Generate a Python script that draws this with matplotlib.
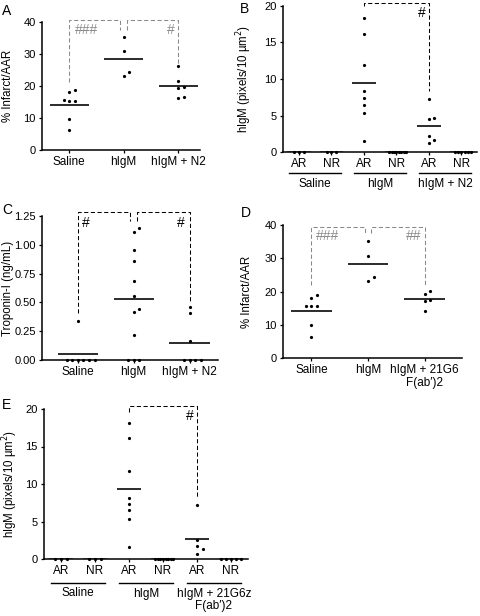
import numpy as np
import matplotlib
matplotlib.use("Agg")
import matplotlib.pyplot as plt

plt.rcParams["font.family"] = ["Liberation Sans", "DejaVu Sans"]
plt.rcParams["font.size"] = 8

# ---- data ----
A_groups = ["Saline", "hIgM", "hIgM + N2"]
A_saline = [18.9, 18.0, 15.5, 15.4, 15.4, 9.7, 6.3]
A_higm = [35.2, 30.8, 24.5, 23.2]
A_n2 = [26.2, 21.5, 19.6, 19.3, 16.7, 16.2]

B_ticks = ["AR", "NR", "AR", "NR", "AR", "NR"]
B_groups = ["Saline", "hIgM", "hIgM + N2"]
B_saline_ar = [0, 0, 0]
B_saline_nr = [0, 0, 0]
B_higm_ar = [18.36, 16.2, 11.96, 8.35, 7.44, 6.48, 5.39, 1.55]
B_higm_nr = [0, 0, 0, 0, 0, 0, 0, 0]
B_n2_ar = [7.2, 4.7, 4.57, 2.15, 1.64, 1.19]
B_n2_nr = [0, 0, 0, 0, 0, 0]

C_groups = ["Saline", "hIgM", "hIgM + N2"]
C_saline = [0.34, 0, 0, 0, 0, 0, 0]
C_higm = [1.148, 1.113, 0.952, 0.862, 0.683, 0.558, 0.441, 0.42, 0.216, 0, 0, 0]
C_n2 = [0.464, 0.412, 0.161, 0, 0, 0, 0]

D_groups = ["Saline", "hIgM", "hIgM + 21G6\nF(ab\u2032)2"]
D_saline = [19.0, 18.1, 15.7, 15.5, 15.5, 9.8, 6.3]
D_higm = [35.2, 30.8, 24.4, 23.2]
D_21g6 = [20.3, 19.2, 17.4, 17.0, 14.2]

E_ticks = ["AR", "NR", "AR", "NR", "AR", "NR"]
E_groups = ["Saline", "hIgM", "hIgM + 21G6z\nF(ab\u2032)2"]
E_saline_ar = [0, 0, 0]
E_saline_nr = [0, 0, 0]
E_higm_ar = [18.2, 16.1, 11.8, 8.2, 7.36, 6.48, 5.37, 1.59]
E_higm_nr = [0, 0, 0, 0, 0, 0, 0, 0]
E_21g6z_ar = [7.2, 2.6, 1.8, 1.3, 0.7]
E_21g6z_nr = [0, 0, 0, 0, 0]

W, H = 480, 616
GRAY = "#8a8a8a"
CAT_FS = 8.5
HASH_FS = 10


def addAxes(fig, left, top, right, bottom):
    return fig.add_axes([left / W, 1 - bottom / H, (right - left) / W, (bottom - top) / H])


def swarmOffsets(values, thresh, dx, maxw=0.3):
    # simple column-scatter: push overlapping points sideways 0, +1, -1, +2 ...
    order = np.argsort(values, kind="stable")
    ks = np.zeros(len(values), dtype=int)
    placed = []
    for i in order:
        v = values[i]
        for n in range(2 * len(values) + 1):
            k = (n + 1) // 2 * (1 if n % 2 else -1)
            if all(not (pk == k and abs(pv - v) < thresh) for pk, pv in placed):
                break
        ks[i] = k
        placed.append((k, v))
    m = np.abs(ks).max()
    step = dx if m == 0 else min(dx, maxw / m)
    return ks * step


def drawGroup(ax, x, values, thresh, dx):
    values = np.asarray(values, dtype=float)
    offs = swarmOffsets(values, thresh, dx)
    ax.plot(x + offs, values, "o", color="black", markersize=2.3,
            markeredgewidth=0, clip_on=False, zorder=5)
    m = values.mean()
    ax.plot([x - 0.36, x + 0.36], [m, m], color="#1a1a1a", lw=1.3,
            solid_capstyle="butt", zorder=4)


def bracket(ax, x1, y1, x2, y2, top, color):
    ax.plot([x1, x1, x2, x2], [y1, top, top, y2], linestyle=(0, (4, 2.4)),
            color=color, lw=0.75, clip_on=False)


def styleAxes(ax, xlim, ylim, yticks, ylabels, ylabel, labelx, labelfs=8.3):
    for s in ["top", "right"]:
        ax.spines[s].set_visible(False)
    for s in ["left", "bottom"]:
        ax.spines[s].set_linewidth(1.1)
    ax.set_xlim(*xlim)
    ax.set_ylim(*ylim)
    ax.set_yticks(yticks)
    ax.set_yticklabels(ylabels)
    ax.tick_params(direction="out", length=2.5, width=0.9, labelsize=8, pad=2)
    ax.set_ylabel(ylabel, fontsize=labelfs)
    ax.yaxis.set_label_coords(labelx, 0.5)


def panelLetter(fig, x, y, s):
    fig.text(x / W, 1 - y / H, s, fontsize=10, ha="left", va="center")


def groupLines(ax, groups, yline, ytext):
    tr = ax.get_xaxis_transform()
    for i, g in enumerate(groups):
        c = 2 * i + 0.5
        ax.plot([c - 0.8, c + 0.8], [yline, yline], color="black", lw=1.0,
                transform=tr, clip_on=False)
        ax.text(c, ytext, g, ha="center", va="top", fontsize=CAT_FS,
                transform=tr, linespacing=1.1)


fig = plt.figure(figsize=(W / 100, H / 100), dpi=100)

# ---- A ----
ax = addAxes(fig, 42, 22, 200, 150)
styleAxes(ax, (-0.5, 2.4), (0, 40), [0, 10, 20, 30, 40],
          ["0", "10", "20", "30", "40"], "% Infarct/AAR", -0.18)
for i, vals in enumerate([A_saline, A_higm, A_n2]):
    drawGroup(ax, i, vals, 1.4, 0.105)
ax.set_xticks(range(3))
ax.set_xticklabels(A_groups, fontsize=CAT_FS)
bracket(ax, 0, 21.3, 0.94, 37.6, 40.7, GRAY)
bracket(ax, 1.06, 37.6, 2, 27.0, 40.7, GRAY)
ax.text(0.1, 37.4, "###", color=GRAY, fontsize=HASH_FS, ha="left", va="center")
ax.text(1.94, 37.4, "#", color=GRAY, fontsize=HASH_FS, ha="right", va="center")
panelLetter(fig, 2, 11, "A")

# ---- B ----
ax = addAxes(fig, 283, 6, 477, 152)
styleAxes(ax, (-0.49, 5.48), (0, 20), [0, 5, 10, 15, 20],
          ["0", "5", "10", "15", "20"], "hIgM (pixels/10 \u00b5m$^2$)", -0.15, 8.3)
for i, vals in enumerate([B_saline_ar, B_saline_nr, B_higm_ar,
                          B_higm_nr, B_n2_ar, B_n2_nr]):
    drawGroup(ax, i, vals, 0.7, 0.15)
ax.set_xticks(range(6))
ax.set_xticklabels(B_ticks, fontsize=CAT_FS)
groupLines(ax, B_groups, -0.144, -0.18)
bracket(ax, 2, 20.0, 4, 8.3, 20.45, "black")
ax.text(3.9, 19.0, "#", fontsize=HASH_FS, ha="right", va="center")
panelLetter(fig, 240, 9, "B")

# ---- C ----
ax = addAxes(fig, 42, 216, 218, 360)
styleAxes(ax, (-0.64, 2.51), (0, 1.25), [0, 0.25, 0.5, 0.75, 1.0, 1.25],
          ["0.00", "0.25", "0.50", "0.75", "1.00", "1.25"], "Troponin-I (ng/mL)", -0.16)
for i, vals in enumerate([C_saline, C_higm, C_n2]):
    drawGroup(ax, i, vals, 0.044, 0.1)
ax.set_xticks(range(3))
ax.set_xticklabels(C_groups, fontsize=CAT_FS)
bracket(ax, 0, 0.41, 0.94, 1.206, 1.288, "black")
bracket(ax, 1.06, 1.206, 2, 0.505, 1.288, "black")
ax.text(0.08, 1.19, "#", fontsize=HASH_FS, ha="left", va="center")
ax.text(1.92, 1.19, "#", fontsize=HASH_FS, ha="right", va="center")
panelLetter(fig, 2, 210, "C")

# ---- D ----
ax = addAxes(fig, 283, 225, 462, 358)
styleAxes(ax, (-0.5, 2.66), (0, 40), [0, 10, 20, 30, 40],
          ["0", "10", "20", "30", "40"], "% Infarct/AAR", -0.165)
for i, vals in enumerate([D_saline, D_higm, D_21g6]):
    drawGroup(ax, i, vals, 1.4, 0.1)
ax.set_xticks(range(3))
ax.set_xticklabels(D_groups, fontsize=CAT_FS, linespacing=1.1)
bracket(ax, 0, 22.1, 0.95, 37.5, 39.5, GRAY)
bracket(ax, 1.05, 37.5, 2, 21.9, 39.5, GRAY)
ax.text(0.08, 36.6, "###", color=GRAY, fontsize=HASH_FS, ha="left", va="center")
ax.text(1.95, 36.6, "##", color=GRAY, fontsize=HASH_FS, ha="right", va="center")
panelLetter(fig, 241, 213, "D")

# ---- E ----
ax = addAxes(fig, 44, 409, 248, 559)
styleAxes(ax, (-0.5, 5.5), (0, 20), [0, 5, 10, 15, 20],
          ["0", "5", "10", "15", "20"], "hIgM (pixels/10 \u00b5m$^2$)", -0.12, 8.3)
for i, vals in enumerate([E_saline_ar, E_saline_nr, E_higm_ar,
                          E_higm_nr, E_21g6z_ar, E_21g6z_nr]):
    drawGroup(ax, i, vals, 0.7, 0.17)
ax.set_xticks(range(6))
ax.set_xticklabels(E_ticks, fontsize=CAT_FS)
groupLines(ax, E_groups, -0.16, -0.19)
bracket(ax, 2, 19.6, 4, 8.2, 20.4, "black")
ax.text(3.9, 19.0, "#", fontsize=HASH_FS, ha="right", va="center")
panelLetter(fig, 2, 405, "E")

fig.savefig("out.png", dpi=100)
